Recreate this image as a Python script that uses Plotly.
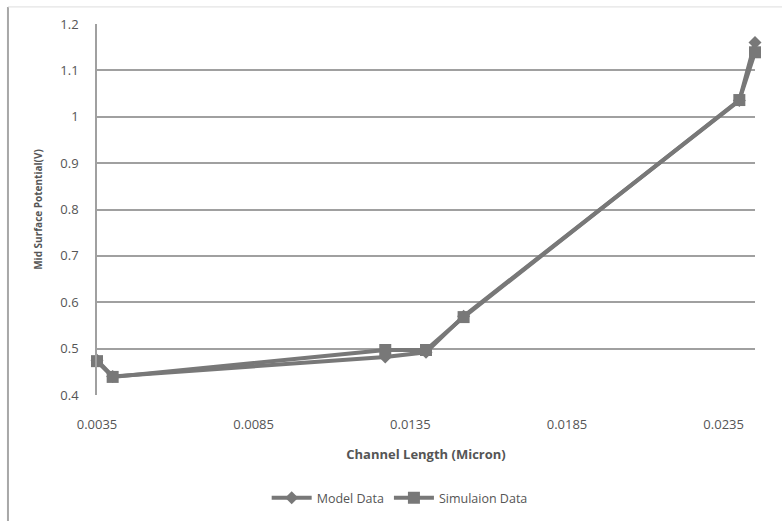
import plotly.graph_objects as go

# Channel length (micron) and mid surface potential (V)
channel_length = [0.0035, 0.0040, 0.0127, 0.0140, 0.0152, 0.0240, 0.0245]
model_data = [0.475, 0.440, 0.482, 0.492, 0.570, 1.035, 1.160]
simulation_data = [0.473, 0.439, 0.497, 0.497, 0.568, 1.036, 1.139]

x_ticks = [0.0035, 0.0085, 0.0135, 0.0185, 0.0235]
y_ticks = [0.4, 0.5, 0.6, 0.7, 0.8, 0.9, 1.0, 1.1, 1.2]
y_tick_text = ["0.4", "0.5", "0.6", "0.7", "0.8", "0.9", "1", "1.1", "1.2"]

line_grey = "#787878"
text_grey = "#555555"
font_family = "Open Sans, DejaVu Sans, sans-serif"

fig = go.Figure()
fig.add_trace(go.Scatter(
    x=channel_length, y=model_data, name="Model Data",
    mode="lines+markers", cliponaxis=False,
    line=dict(color=line_grey, width=4),
    marker=dict(symbol="diamond", size=10, color=line_grey),
))
fig.add_trace(go.Scatter(
    x=channel_length, y=simulation_data, name="Simulaion Data",
    mode="lines+markers", cliponaxis=False,
    line=dict(color=line_grey, width=4),
    marker=dict(symbol="square", size=12, color=line_grey),
))

# Chart frame (left and top edges)
fig.add_shape(type="line", xref="paper", yref="paper",
              x0=-0.1353, x1=-0.1353, y0=-0.36, y1=1.046,
              line=dict(color="#a8a8a8", width=2))
fig.add_shape(type="line", xref="paper", yref="paper",
              x0=-0.1353, x1=1.1, y0=1.046, y1=1.046,
              line=dict(color="#dddddd", width=1))

fig.update_layout(
    width=782, height=521,
    margin=dict(l=97, r=27, t=24, b=126, autoexpand=False),
    paper_bgcolor="white", plot_bgcolor="white",
    font=dict(family=font_family, color=text_grey, size=12),
    showlegend=True,
    legend=dict(orientation="h", x=0.46, xanchor="center",
                y=-0.278, yanchor="middle",
                font=dict(size=12.5, color=text_grey),
                itemwidth=40),
    xaxis=dict(
        range=[0.0035, 0.0245], automargin=False,
        tickmode="array", tickvals=x_ticks,
        ticktext=[f"{v:.4f}" for v in x_ticks],
        showgrid=False, zeroline=False,
        showline=False, ticks="",
        ticklabelstandoff=20,
        tickfont=dict(size=13, color=text_grey),
        title=dict(text="<b>Channel Length (Micron)</b>",
                   font=dict(size=13, color=text_grey), standoff=17),
    ),
    yaxis=dict(
        range=[0.4, 1.2], automargin=False,
        tickmode="array", tickvals=y_ticks, ticktext=y_tick_text,
        showgrid=True, gridcolor="#a0a0a0", gridwidth=1.5,
        zeroline=False,
        showline=True, linecolor="#a0a0a0", linewidth=1.5,
        ticks="", ticklabelstandoff=14,
        tickfont=dict(size=13, color=text_grey),
        title=dict(text="<b>Mid Surface Potential(V)</b>",
                   font=dict(size=10, color=text_grey), standoff=16),
    ),
)

fig.write_html("out.html")
